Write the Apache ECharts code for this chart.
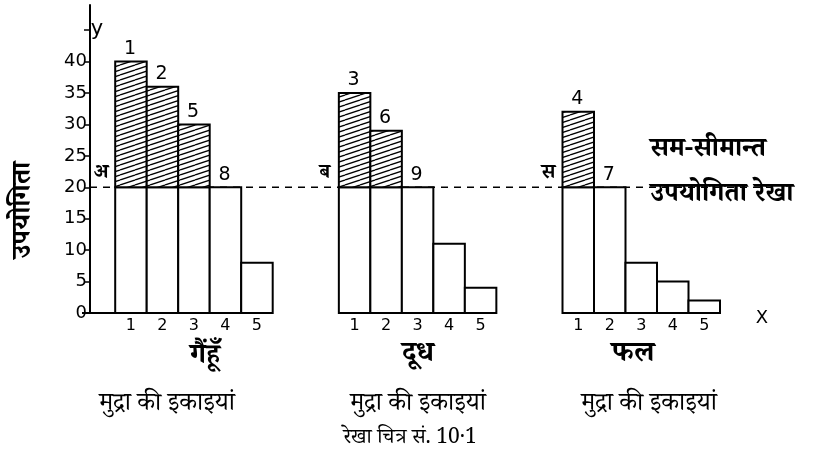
<!DOCTYPE html>
<html><head><meta charset="utf-8">
<script src="https://cdn.jsdelivr.net/npm/echarts@6/dist/echarts.min.js"></script>
<style>html,body{margin:0;padding:0;background:#fff}#c{width:818px;height:461px}</style>
</head><body><div id="c"></div>
<script>
// ---- data ----
const goods = ['गैंहूँ', 'दूध', 'फल'];
const units = ['1', '2', '3', '4', '5'];
const wheat = [40, 36, 30, 20, 8];
const milk = [35, 29, 20, 11, 4];
const fruit = [32, 20, 8, 5, 2];
const wheatOrder = ['1', '2', '5', '8', ''];
const milkOrder = ['3', '6', '9', '', ''];
const fruitOrder = ['4', '7', '', '', ''];
const groupLetters = ['अ', 'ब', 'स'];
const equalLine = 20;
const yLabels = [0, 5, 10, 15, 20, 25, 30, 35, 40];
const yTickValues = [0, 5, 10, 15, 20, 25, 30, 35, 40, 45];
const unitLabel = 'मुद्रा की इकाइयां';
const yName = 'उपयोगिता';
const lineLabelTop = 'सम-सीमान्त';
const lineLabelBottom = 'उपयोगिता रेखा';
const caption = 'रेखा चित्र सं. 10·1';

// ---- layout ----
const groupStart = [0.8, 7.9, 15];
const groups = [wheat, milk, fruit];
const orders = [wheatOrder, milkOrder, fruitOrder];
const DEV = '"Noto Serif Devanagari","Noto Sans Devanagari","Lohit Devanagari","FreeSerif","Noto Sans",serif';
const NUM = '"DejaVu Sans","Liberation Sans",sans-serif';

const barData = [];
const labelPos = [];
const labelMap = {};
groups.forEach((arr, g) => {
  arr.forEach((v, i) => {
    const x = groupStart[g] + i;
    barData.push([x, v, g, i]);
    const c = +(x + 0.5).toFixed(3);
    labelPos.push(c);
    labelMap[c] = units[i];
  });
});

// hatch pattern
const hatch = document.createElement('canvas');
const HW = 15, HH = 5;
hatch.width = HW; hatch.height = HH;
(function () {
  const ctx = hatch.getContext('2d');
  ctx.fillStyle = '#fff'; ctx.fillRect(0, 0, HW, HH);
  ctx.strokeStyle = '#000'; ctx.lineWidth = 1.3;
  for (let k = -1; k <= 1; k++) {
    ctx.beginPath();
    ctx.moveTo(0, HH + k * HH);
    ctx.lineTo(HW, 0 + k * HH);
    ctx.stroke();
  }
})();

const chart = echarts.init(document.getElementById('c'));

function renderItem(params, api) {
  const x0 = api.value(0), v = api.value(1), g = api.value(2), i = api.value(3);
  const bl = api.coord([x0, 0]);
  const tr = api.coord([x0 + 1, v]);
  const midY = api.coord([x0, Math.min(v, equalLine)])[1];
  const w = tr[0] - bl[0];
  const children = [];
  children.push({
    type: 'rect',
    shape: { x: bl[0], y: midY, width: w, height: bl[1] - midY },
    style: { fill: '#fff', stroke: '#000', lineWidth: 2 }
  });
  if (v > equalLine) {
    children.push({
      type: 'rect',
      shape: { x: bl[0], y: tr[1], width: w, height: midY - tr[1] },
      style: { fill: { image: hatch, repeat: 'repeat' }, stroke: '#000', lineWidth: 2 }
    });
  }
  const ord = orders[g][i];
  if (ord) {
    children.push({
      type: 'text',
      x: bl[0] + w / 2 - 1, y: tr[1] - 3,
      style: { text: ord, fill: '#000', font: '19px ' + NUM, textAlign: 'center', textVerticalAlign: 'bottom' }
    });
  }
  if (i === 0) {
    const p = api.coord([x0, equalLine]);
    children.push({
      type: 'text',
      x: p[0] - 14, y: p[1] - 1,
      style: { text: groupLetters[g], fill: '#000', font: 'bold 20px ' + DEV, textAlign: 'center', textVerticalAlign: 'bottom' }
    });
    if (g === 0) {
      const o = api.coord([0, 0]);
      children.push({
        type: 'line',
        shape: { x1: o[0] - 8, y1: o[1], x2: bl[0], y2: bl[1] },
        style: { stroke: '#000', lineWidth: 2 }
      });
    }
  }
  return { type: 'group', children };
}

chart.setOption({
  animation: false,
  backgroundColor: '#fff',
  grid: { left: 90, right: 35, top: 5, bottom: 148 },
  xAxis: {
    type: 'value', min: 0, max: 22,
    axisLine: { show: false }, axisTick: { show: false }, splitLine: { show: false },
    axisLabel: {
      customValues: labelPos,
      formatter: v => labelMap[+v.toFixed(3)] || '',
      color: '#000', fontSize: 16, fontFamily: NUM, margin: 5
    }
  },
  yAxis: {
    type: 'value', min: 0, max: 49,
    axisLine: { show: true, lineStyle: { color: '#000', width: 2 } },
    axisTick: { show: true, customValues: yTickValues, length: 6, lineStyle: { color: '#000', width: 1.5 } },
    axisLabel: { customValues: yLabels, color: '#000', fontSize: 18, fontFamily: NUM, margin: 3 },
    splitLine: { show: false }
  },
  series: [
    {
      type: 'line',
      data: [[0, equalLine], [21.8, equalLine]],
      symbol: 'none',
      lineStyle: { color: '#000', width: 1.6, type: [7, 6] },
      silent: true, z: 1
    },
    {
      type: 'custom',
      renderItem: renderItem,
      data: barData,
      encode: { x: 0, y: 1 },
      z: 3
    }
  ],
  graphic: [
    { type: 'text', x: 97, y: 30, style: { text: 'y', fill: '#000', font: '21px ' + NUM, textAlign: 'center', textVerticalAlign: 'middle' } },
    { type: 'text', x: 762, y: 318, style: { text: 'X', fill: '#000', font: '18px ' + NUM, textAlign: 'center', textVerticalAlign: 'middle' } },
    { type: 'text', x: 27, y: 210, rotation: Math.PI / 2, style: { text: yName, fill: '#000', font: 'bold 27px ' + DEV, textAlign: 'center', textVerticalAlign: 'middle' } },
    { type: 'text', x: 708, y: 153, style: { text: lineLabelTop, fill: '#000', font: 'bold 27px ' + DEV, textAlign: 'center', textVerticalAlign: 'middle' } },
    { type: 'text', x: 722, y: 198, style: { text: lineLabelBottom, fill: '#000', font: 'bold 27px ' + DEV, textAlign: 'center', textVerticalAlign: 'middle' } },
    { type: 'text', x: 205, y: 360, style: { text: goods[0], fill: '#000', font: 'bold 28px ' + DEV, textAlign: 'center', textVerticalAlign: 'middle' } },
    { type: 'text', x: 418, y: 358, style: { text: goods[1], fill: '#000', font: 'bold 29px ' + DEV, textAlign: 'center', textVerticalAlign: 'middle' } },
    { type: 'text', x: 633, y: 358, style: { text: goods[2], fill: '#000', font: 'bold 29px ' + DEV, textAlign: 'center', textVerticalAlign: 'middle' } },
    { type: 'text', x: 167, y: 408, style: { text: unitLabel, fill: '#000', font: '25px ' + DEV, textAlign: 'center', textVerticalAlign: 'middle' } },
    { type: 'text', x: 418, y: 408, style: { text: unitLabel, fill: '#000', font: '25px ' + DEV, textAlign: 'center', textVerticalAlign: 'middle' } },
    { type: 'text', x: 649, y: 408, style: { text: unitLabel, fill: '#000', font: '25px ' + DEV, textAlign: 'center', textVerticalAlign: 'middle' } },
    { type: 'text', x: 410, y: 441, style: { text: caption, fill: '#000', font: '21px ' + DEV, textAlign: 'center', textVerticalAlign: 'middle' } }
  ]
});
</script>
</body></html>
